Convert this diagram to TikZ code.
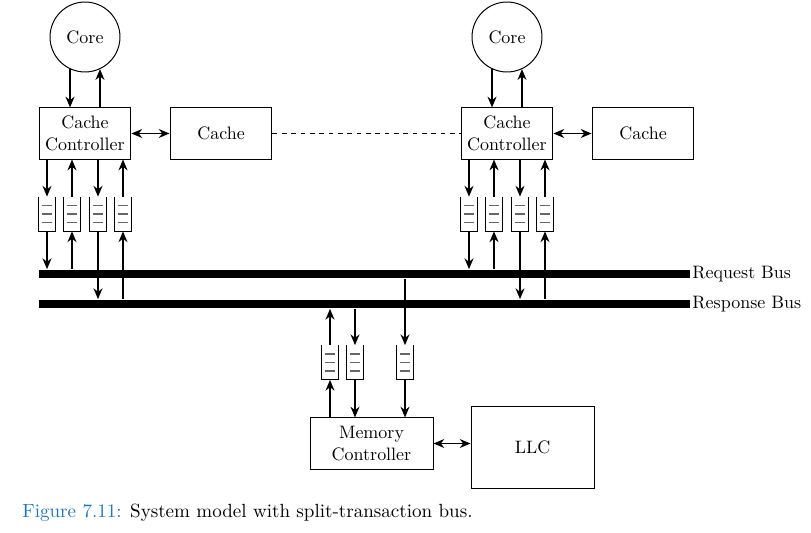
\documentclass[tikz,border=0pt]{standalone}
\usetikzlibrary{arrows.meta}

\definecolor{capblue}{RGB}{30,118,186}

\tikzset{
    box/.style={draw, line width=0.55pt, minimum height=28.4pt, inner sep=1pt, align=center},
    core/.style={draw, circle, line width=0.55pt, minimum size=38.9pt, inner sep=0pt},
    fifo/.style={minimum width=8.9pt, minimum height=18.9pt, inner sep=0pt},
    bus/.style={fill=black, minimum width=362pt, minimum height=5pt, inner sep=0pt},
    arr/.style={-{Stealth[length=6pt,width=5pt]}, line width=0.8pt},
    dbl/.style={{Stealth[length=6pt,width=5pt]}-{Stealth[length=6pt,width=5pt]}, line width=0.8pt},
}

% queue: open at the top, three slots
\newcommand{\fifo}[3]{%
    \node[fifo] (#1) at (#2,#3) {};
    \draw[line width=0.55pt] (#1.north west) -- (#1.south west) -- (#1.south east) -- (#1.north east);
    \foreach \dy in {-4.7pt,0pt,4.7pt}
        \draw[black!60, line width=0.7pt] ([xshift=1.8pt,yshift=\dy]#1.west) -- ([xshift=-1.8pt,yshift=\dy]#1.east);
}

\begin{document}
\begin{tikzpicture}[x=0.01955cm, y=-0.01955cm]
    \useasboundingbox (0,0) rectangle (811,533);

    % buses
    \node[bus] (req) at (364.5,274) {};
    \node[bus] (resp) at (364.5,304) {};
    \node[right, inner sep=1pt] at (req.east) {Request Bus};
    \node[right, inner sep=1pt] at (resp.east) {Response Bus};

    % the two processors
    \foreach \s/\cx in {L/85,R/507} {
        \node[core] (core\s) at (\cx,37) {Core};
        \node[box, minimum width=51.1pt] (cc\s) at (\cx,133.5) {Cache\\Controller};
        \node[box, minimum width=56.7pt] (cache\s) at (\cx+136,133.5) {Cache};

        \draw[arr] (core\s.245) -- (core\s.245 |- cc\s.north);
        \draw[arr] (core\s.295 |- cc\s.north) -- (core\s.295);
        \draw[dbl] (cc\s.east) -- (cache\s.west);

        \foreach \i/\dx in {1/-38,2/-13,3/13,4/38}
            \fifo{q\s\i}{\cx+\dx}{214};

        \draw[arr] (q\s1.north |- cc\s.south) -- (q\s1.north);
        \draw[arr] (q\s1.south) -- (q\s1.south |- req.north);
        \draw[arr] (q\s2.south |- req.north) -- (q\s2.south);
        \draw[arr] (q\s2.north) -- (q\s2.north |- cc\s.south);
        \draw[arr] (q\s3.north |- cc\s.south) -- (q\s3.north);
        \draw[arr] (q\s3.south) -- (q\s3.south |- resp.north);
        \draw[arr] (q\s4.south |- resp.north) -- (q\s4.south);
        \draw[arr] (q\s4.north) -- (q\s4.north |- cc\s.south);
    }
    \draw[dashed, dash pattern=on 2.6pt off 2.6pt, line width=0.55pt] (cacheL.east) -- (ccR.west);

    % memory side
    \node[box, minimum width=68.4pt] (mc) at (371.5,443.5) {Memory\\Controller};
    \node[box, minimum width=68.4pt, minimum height=45.6pt] (llc) at (532.5,447) {LLC};
    \draw[dbl] (mc.east) -- (mc.east -| llc.west);

    \fifo{m1}{330}{362.5}
    \fifo{m2}{355}{362.5}
    \fifo{m3}{405}{362.5}

    \draw[arr] (m1.south |- mc.north) -- (m1.south);
    \draw[arr] (m1.north) -- (m1.north |- resp.south);
    \draw[arr] (m2.north |- resp.south) -- (m2.north);
    \draw[arr] (m2.south) -- (m2.south |- mc.north);
    \draw[arr] (m3.north |- req.south) -- (m3.north);
    \draw[arr] (m3.south) -- (m3.south |- mc.north);

    \node[anchor=west, font=\fontsize{10.6}{13}\selectfont] (caption) at (16,513) {\textcolor{capblue}{Figure 7.11:} System model with split-transaction bus.};
\end{tikzpicture}
\end{document}
